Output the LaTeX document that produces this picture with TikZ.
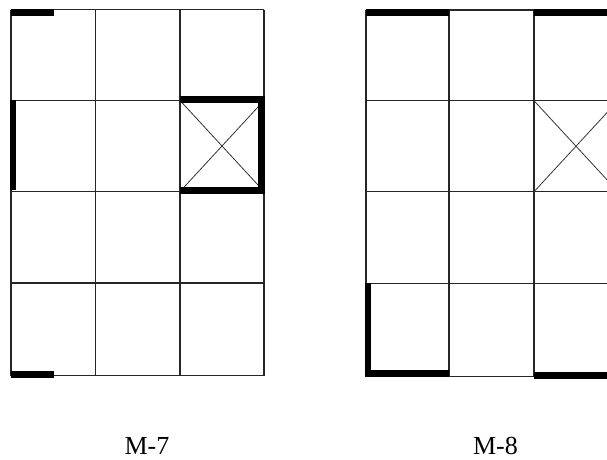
\documentclass[tikz,border=0pt]{standalone}
\usepackage{fontspec}
\setmainfont{Liberation Serif}
\begin{document}
\begin{tikzpicture}[x=1pt,y=-1pt,
  gridline/.style={line width=1.2pt,black!85},
  diag/.style={line width=0.8pt,black!80},
  bar/.style={fill=black,draw=none},
  lbl/.style={font=\fontsize{26}{30}\selectfont,anchor=base,inner sep=0pt}]
\useasboundingbox (0,0) rectangle (607,459);
\clip (0,0) rectangle (607,459);
% ---- left grid (M-7)
\foreach \x in {11,95.5,180,264} \draw[gridline] (\x,9.5) -- (\x,375.5);
\foreach \y in {9.5,100.5,191.5,283,375.5} \draw[gridline] (11,\y) -- (264,\y);
\draw[diag] (180,100.5) -- (264,191.5) (180,191.5) -- (264,100.5);
\fill[bar] (11,9) rectangle (54,16);
\fill[bar] (11,370.5) rectangle (54,378);
\fill[bar] (10,100) rectangle (15.5,190);
\fill[bar] (180,96) rectangle (264,103);
\fill[bar] (258,96) rectangle (265,194);
\fill[bar] (180,187) rectangle (265,194);
\node[lbl] (m7) at (147,454) {M-7};
% ---- right grid (M-8)
\foreach \x in {366,449,534,618} \draw[gridline] (\x,10) -- (\x,376.5);
\foreach \y in {10,100.7,191.7,283.3,376.5} \draw[gridline] (366,\y) -- (618,\y);
\draw[diag] (534,100.7) -- (618,191.7) (534,191.7) -- (618,100.7);
\fill[bar] (366,9) rectangle (449,16);
\fill[bar] (534,9) rectangle (618,16);
\fill[bar] (365,283.3) rectangle (371,377);
\fill[bar] (365,370) rectangle (449,377);
\fill[bar] (534,372) rectangle (618,379);
\node[lbl] (m8) at (495.5,454) {M-8};
\end{tikzpicture}
\end{document}
